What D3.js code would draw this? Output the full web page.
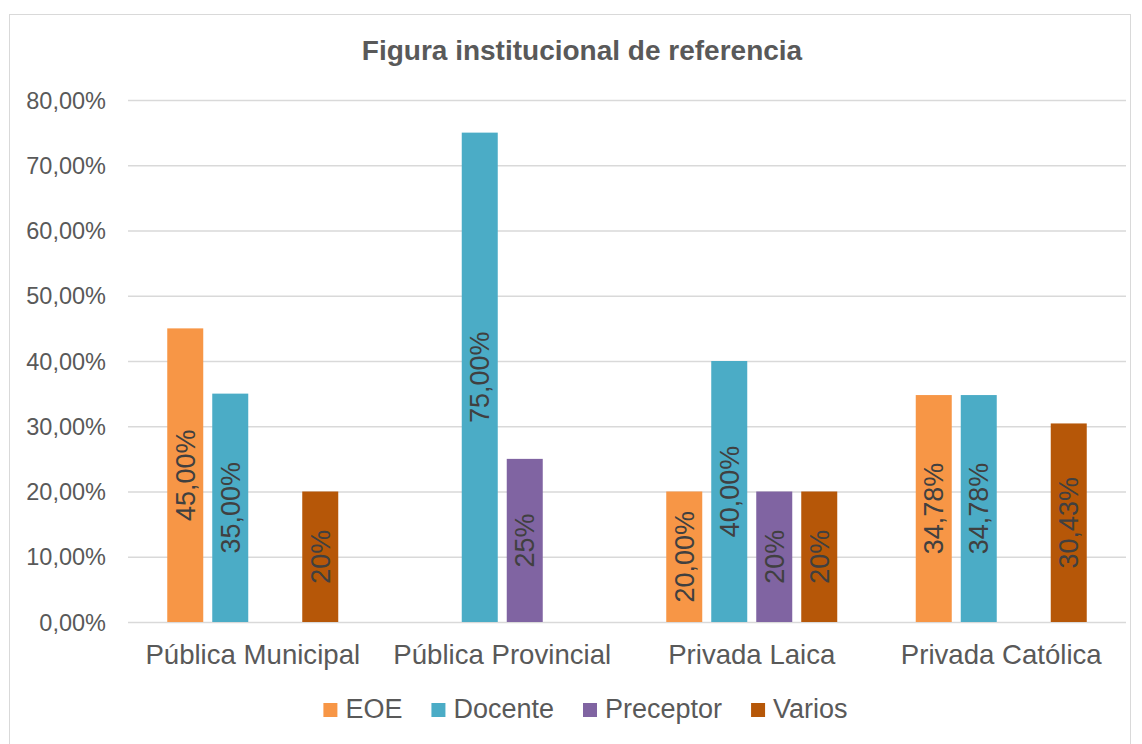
<!DOCTYPE html>
<html>
<head>
<meta charset="utf-8">
<script src="https://cdn.jsdelivr.net/npm/d3@7"></script>
<style>
  html, body { margin: 0; padding: 0; background: #ffffff; }
  svg { display: block; font-family: "Liberation Sans", Arial, sans-serif; }
</style>
</head>
<body>
<svg id="chart" width="1142" height="744"></svg>
<script>
const categories = ["Pública Municipal", "Pública Provincial", "Privada Laica", "Privada Católica"];
const seriesNames = ["EOE", "Docente", "Preceptor", "Varios"];
const seriesColors = ["#F79646", "#4BACC6", "#8064A2", "#B65708"];
const eoeValues = [45, null, 20, 34.78];
const docenteValues = [35, 75, 40, 34.78];
const preceptorValues = [null, 25, 20, null];
const variosValues = [20, null, 20, 30.43];
const eoeLabels = ["45,00%", null, "20,00%", "34,78%"];
const docenteLabels = ["35,00%", "75,00%", "40,00%", "34,78%"];
const preceptorLabels = [null, "25%", "20%", null];
const variosLabels = ["20%", null, "20%", "30,43%"];
const yTicks = [0, 10, 20, 30, 40, 50, 60, 70, 80];
const yTickLabels = ["0,00%", "10,00%", "20,00%", "30,00%", "40,00%", "50,00%", "60,00%", "70,00%", "80,00%"];
const titleText = "Figura institucional de referencia";

const seriesValues = [eoeValues, docenteValues, preceptorValues, variosValues];
const seriesLabels = [eoeLabels, docenteLabels, preceptorLabels, variosLabels];

const svg = d3.select("#chart");

// outer frame
svg.append("rect").attr("x", 9.5).attr("y", 14.5).attr("width", 1121).attr("height", 740)
  .attr("fill", "#ffffff").attr("stroke", "#d9d9d9").attr("stroke-width", 1);

const plotLeft = 128, plotRight = 1126, plotTop = 100, plotBottom = 622;

const x = d3.scaleBand().domain(categories).range([plotLeft, plotRight]).paddingInner(0).paddingOuter(0);
const groupInner = 171;
const xs = d3.scaleBand().domain(seriesNames).range([0, groupInner]).paddingInner(0.2).paddingOuter(0);
const groupOffset = (x.bandwidth() - groupInner) / 2;
const y = d3.scaleLinear().domain([0, 80]).range([plotBottom, plotTop]);

// gridlines
const yAxis = d3.axisLeft(y).tickValues(yTicks).tickSize(-(plotRight - plotLeft))
  .tickFormat((d, i) => yTickLabels[i]).tickPadding(22);
const gy = svg.append("g").attr("transform", `translate(${plotLeft},0)`).call(yAxis);
gy.select(".domain").remove();
gy.selectAll(".tick line").attr("stroke", "#d9d9d9").attr("stroke-width", 1.5);
gy.selectAll(".tick text").attr("fill", "#595959").style("font-size", "23.5px")
  .attr("dy", "0.35em");

// x axis labels
const xAxis = d3.axisBottom(x).tickSize(0).tickPadding(22);
const gx = svg.append("g").attr("transform", `translate(0,${plotBottom})`).call(xAxis);
gx.select(".domain").remove();
gx.selectAll(".tick text").attr("fill", "#595959").style("font-size", "27.6px").attr("dy", "0.71em");

// bars
const barData = [];
seriesNames.forEach((s, si) => {
  categories.forEach((c, ci) => {
    const v = seriesValues[si][ci];
    if (v !== null) barData.push({ s, si, c, v, label: seriesLabels[si][ci] });
  });
});

const bars = svg.append("g");
bars.selectAll("rect").data(barData).join("rect")
  .attr("x", d => x(d.c) + groupOffset + xs(d.s))
  .attr("y", d => y(d.v))
  .attr("width", xs.bandwidth())
  .attr("height", d => y(0) - y(d.v))
  .attr("fill", d => seriesColors[d.si]);

bars.selectAll("text").data(barData).join("text")
  .attr("transform", d => {
    const cx = x(d.c) + groupOffset + xs(d.s) + xs.bandwidth() / 2;
    const cy = (y(d.v) + y(0)) / 2;
    return `translate(${cx},${cy}) rotate(-90)`;
  })
  .attr("text-anchor", "middle").attr("dy", "0.35em")
  .attr("fill", "#404040").style("font-size", "27px")
  .text(d => d.label);

// title
svg.append("text").attr("x", 582).attr("y", 60).attr("text-anchor", "middle")
  .attr("fill", "#595959").style("font-size", "28px").style("font-weight", "bold")
  .text(titleText);

// legend
const legend = svg.append("g");
let lx = 0;
seriesNames.forEach((s, i) => {
  const g = legend.append("g");
  g.append("rect").attr("x", 0).attr("y", -15).attr("width", 14).attr("height", 14).attr("fill", seriesColors[i]);
  const t = g.append("text").attr("x", 22).attr("y", 0).attr("fill", "#595959")
    .style("font-size", "27px").text(s);
  const w = 22 + t.node().getComputedTextLength();
  g.attr("transform", `translate(${lx},0)`);
  lx += w + 29;
});
const legendWidth = lx - 29;
legend.attr("transform", `translate(${585.5 - legendWidth / 2},718)`);
</script>
</body>
</html>
